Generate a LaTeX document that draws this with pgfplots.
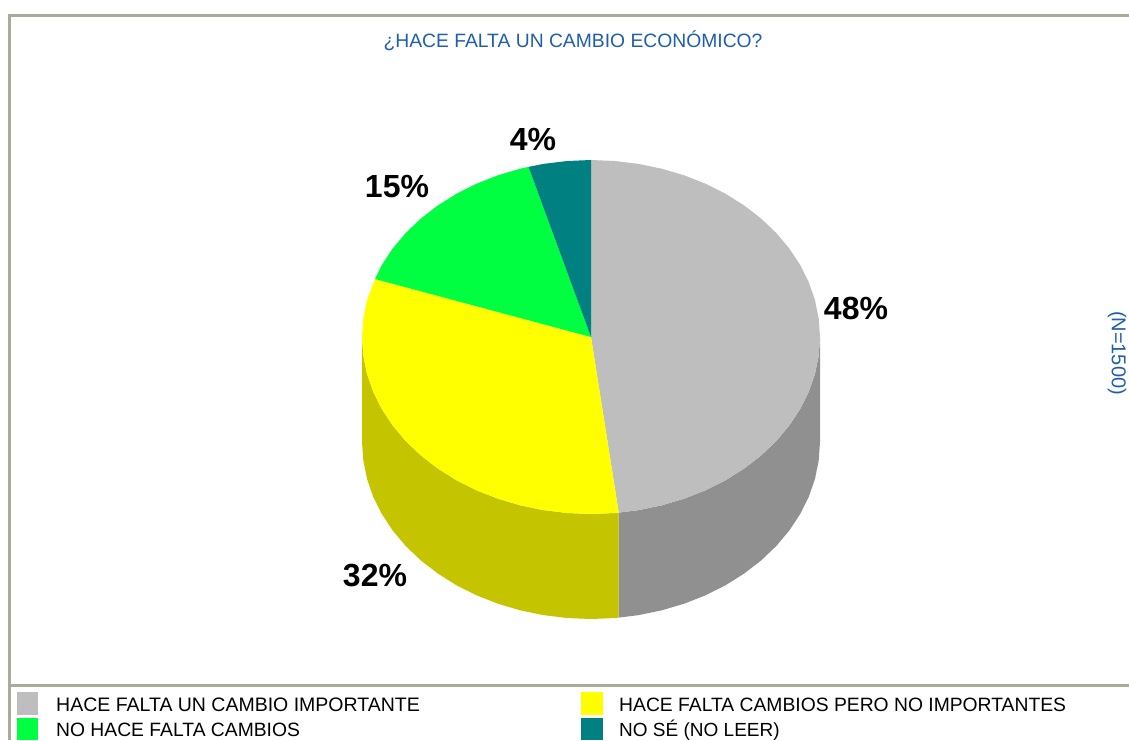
\documentclass[border=0pt]{standalone}
\usepackage{pgfplots}
\pgfplotsset{compat=1.18}
\usepackage{fontspec}
\setmainfont{Liberation Sans}
\definecolor{cgray}{HTML}{BEBEBE}
\definecolor{cgrayd}{HTML}{909090}
\definecolor{cyel}{HTML}{FFFF00}
\definecolor{cyeld}{HTML}{C4C400}
\definecolor{cgreen}{HTML}{00FF41}
\definecolor{cteal}{HTML}{008080}
\definecolor{cframe}{HTML}{ABAB9C}
\definecolor{ctitle}{HTML}{1F5DAE}
\begin{document}
\begin{tikzpicture}
\useasboundingbox (0,0) rectangle (1129pt,740pt);
\begin{axis}[
  at={(0,0)},anchor=south west,
  width=1129pt,height=740pt,scale only axis,
  xmin=0,xmax=1129,ymin=0,ymax=740,y dir=reverse,
  hide axis,clip=true,
]
% frame
\addplot[cframe,line width=3pt,no marks] coordinates {(9,740) (9,15) (1129,15)};
\addplot[cframe,line width=3pt,no marks] coordinates {(9,685) (1129,685)};
% side walls
\addplot[draw=none,fill=cgrayd,no marks] coordinates {
(820,337)(818.7,355.5)(815,373.8)(808.8,391.7)(800.2,409)(789.3,425.5)(776.3,441)(761.2,455.4)(744.2,468.5)(725.6,480.2)(705.5,490.3)(684.1,498.7)(661.8,505.3)(638.6,510.1)(618.7,512.6)
(618.7,617.6)(638.6,615.1)(661.8,610.3)(684.1,603.7)(705.5,595.3)(725.6,585.2)(744.2,573.5)(761.2,560.4)(776.3,546)(789.3,530.5)(800.2,514)(808.8,496.7)(815,478.8)(818.7,460.5)(820,442)
} --cycle;
\addplot[draw=none,fill=cyeld,no marks] coordinates {
(618.7,512.6)(614.9,513)(591,514)(567.1,513)(543.4,510.1)(520.2,505.3)(497.9,498.7)(476.5,490.3)(456.4,480.2)(437.8,468.5)(420.8,455.4)(405.7,441)(392.7,425.5)(381.8,409)(373.2,391.7)(367,373.8)(363.3,355.5)(362,337)
(362,442)(363.3,460.5)(367,478.8)(373.2,496.7)(381.8,514)(392.7,530.5)(405.7,546)(420.8,560.4)(437.8,573.5)(456.4,585.2)(476.5,595.3)(497.9,603.7)(520.2,610.3)(543.4,615.1)(567.1,618)(591,619)(614.9,618)(618.7,617.6)
} --cycle;
% top slices
\addplot[draw=none,fill=cgray,no marks] coordinates {
(591,337)(591,160)(614.9,161)(638.6,163.9)(661.8,168.7)(684.1,175.3)(705.5,183.7)(725.6,193.8)(744.2,205.5)(761.2,218.6)(776.3,233)(789.3,248.5)(800.2,265)(808.8,282.3)(815,300.2)(818.7,318.5)(820,337)(818.7,355.5)(815,373.8)(808.8,391.7)(800.2,409)(789.3,425.5)(776.3,441)(761.2,455.4)(744.2,468.5)(725.6,480.2)(705.5,490.3)(684.1,498.7)(661.8,505.3)(638.6,510.1)(618.7,512.6)
} --cycle;
\addplot[draw=none,fill=cyel,no marks] coordinates {
(591,337)(618.7,512.6)(614.9,513)(591,514)(567.1,513)(543.4,510.1)(520.2,505.3)(497.9,498.7)(476.5,490.3)(456.4,480.2)(437.8,468.5)(420.8,455.4)(405.7,441)(392.7,425.5)(381.8,409)(373.2,391.7)(367,373.8)(363.3,355.5)(362,337)(363.3,318.5)(367,300.2)(375,279)
} --cycle;
\addplot[draw=none,fill=cgreen,no marks] coordinates {
(591,337)(375,279)(381.8,265)(392.7,248.5)(405.7,233)(420.8,218.6)(437.8,205.5)(456.4,193.8)(476.5,183.7)(497.9,175.3)(520.2,168.7)(528.5,166.9)
} --cycle;
\addplot[draw=none,fill=cteal,no marks] coordinates {
(591,337)(528.5,166.9)(543.4,163.9)(567.1,161)(591,160)
} --cycle;
% legend swatches
\addplot[draw=none,fill=cgray,no marks] coordinates {(17,692)(38,692)(38,715)(17,715)} --cycle;
\addplot[draw=none,fill=cyel,no marks] coordinates {(581,692)(603,692)(603,715)(581,715)} --cycle;
\addplot[draw=none,fill=cgreen,no marks] coordinates {(17,718)(38,718)(38,740)(17,740)} --cycle;
\addplot[draw=none,fill=cteal,no marks] coordinates {(581,718)(603,718)(603,740)(581,740)} --cycle;
% labels
\node[font=\fontsize{19.3}{19.3}\selectfont,text=ctitle] at (axis cs:573,41) {¿HACE FALTA UN CAMBIO ECONÓMICO?};
\node[font=\fontsize{20}{20}\selectfont,text=ctitle,rotate=-90] at (axis cs:1117,353) {(N=1500)};
\node[font=\bfseries\fontsize{32}{32}\selectfont] at (axis cs:856,308) {48\%};
\node[font=\bfseries\fontsize{32}{32}\selectfont] at (axis cs:397,187) {15\%};
\node[font=\bfseries\fontsize{32}{32}\selectfont] at (axis cs:533,139) {4\%};
\node[font=\bfseries\fontsize{32}{32}\selectfont] at (axis cs:375,575) {32\%};
\node[font=\fontsize{19.5}{19.5}\selectfont,anchor=base west,inner sep=0pt] at (axis cs:56,711.5) {HACE FALTA UN CAMBIO IMPORTANTE};
\node[font=\fontsize{19.3}{19.3}\selectfont,anchor=base west,inner sep=0pt] at (axis cs:619,711.5) {HACE FALTA CAMBIOS PERO NO IMPORTANTES};
\node[font=\fontsize{19.3}{19.3}\selectfont,anchor=base west,inner sep=0pt] at (axis cs:56,736) {NO HACE FALTA CAMBIOS};
\node[font=\fontsize{19}{19}\selectfont,anchor=base west,inner sep=0pt] at (axis cs:619,736) {NO SÉ (NO LEER)};
\end{axis}
\end{tikzpicture}
\end{document}
